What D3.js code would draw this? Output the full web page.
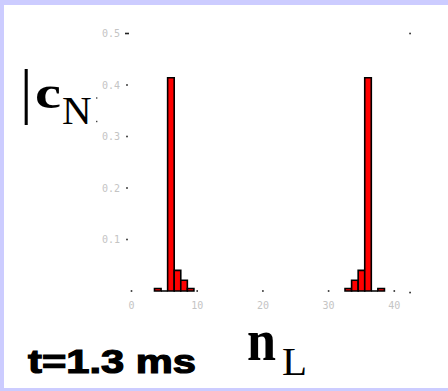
<!DOCTYPE html>
<html>
<head>
<meta charset="utf-8">
<script src="https://cdn.jsdelivr.net/npm/d3@7"></script>
<style>
  body { margin: 0; background: #ccccff; }
  svg { display: block; }
</style>
</head>
<body>
<svg></svg>
<script>
// chart size
const width = 448,
      height = 391;

// data: |c_N|^2 against n_L
const nValues = [4, 5, 6, 7, 8, 9, 33, 34, 35, 36, 37, 38];
const cValues = [0.005, 0, 0.414, 0.04, 0.021, 0.005, 0.005, 0.021, 0.04, 0.414, 0, 0.005];
const xTicks = [0, 10, 20, 30, 40];
const yTicks = [0.1, 0.2, 0.3, 0.4, 0.5];
const xMax = 42.4;

const svg = d3.select("svg")
    .attr("width", width)
    .attr("height", height);

// lavender frame + white page
svg.append("rect").attr("width", width).attr("height", height).attr("fill", "#ccccff");
svg.append("rect").attr("x", 4).attr("y", 5).attr("width", width - 4).attr("height", 383).attr("fill", "#fff");

const xScale = d3.scaleLinear().domain([0, 40]).range([131.5, 394.3]);
const yScale = d3.scaleLinear().domain([0, 0.5]).range([291, 33.5]);

// bars, drawn as paths so zero bars still show as a line
svg.selectAll(".bar")
  .data(nValues.map((n, i) => ({ n: n, v: cValues[i] })))
  .enter().append("path")
    .attr("class", "bar")
    .attr("d", d => {
      let x0 = xScale(d.n - 0.5), x1 = xScale(d.n + 0.5);
      let y0 = yScale(0), y1 = yScale(d.v);
      return `M${x0},${y0}V${y1}H${x1}V${y0}Z`;
    })
    .attr("fill", "#ff0000")
    .attr("stroke", "#000")
    .attr("stroke-width", 1.6);

// y ticks: little dots and grey labels
yTicks.forEach(t => {
  let w = t == 0.5 ? 4 : 1.6;
  svg.append("rect")
    .attr("x", 127 - w / 2).attr("y", yScale(t) - 0.8)
    .attr("width", w).attr("height", 1.6)
    .attr("fill", "#222");
  svg.append("text")
    .attr("x", 120).attr("y", yScale(t))
    .attr("dy", "0.35em")
    .attr("text-anchor", "end")
    .attr("font-family", "DejaVu Sans Mono")
    .attr("font-size", 10)
    .attr("fill", "#c4c4c4")
    .text(d3.format(".1f")(t));
});

// x ticks
xTicks.forEach(t => {
  svg.append("rect")
    .attr("x", xScale(t) - 0.8).attr("y", yScale(0) - 0.8)
    .attr("width", 1.6).attr("height", 1.6)
    .attr("fill", "#222");
  svg.append("text")
    .attr("x", xScale(t)).attr("y", 305)
    .attr("dy", "0.35em")
    .attr("text-anchor", "middle")
    .attr("font-family", "DejaVu Sans Mono")
    .attr("font-size", 10)
    .attr("fill", "#c4c4c4")
    .text(t);
});

// corner dots of the plot range
[0.5, -0.003].forEach(v => {
  svg.append("rect")
    .attr("x", xScale(xMax) - 0.8).attr("y", yScale(v) - 0.8)
    .attr("width", 1.6).attr("height", 1.6)
    .attr("fill", "#222");
});

// y axis label |c_N
svg.append("text")
  .attr("x", 20).attr("y", 112)
  .attr("font-family", "Liberation Serif")
  .attr("font-size", 62)
  .text("|");
svg.append("text")
  .attr("x", 35).attr("y", 108)
  .attr("font-family", "Liberation Serif")
  .attr("font-weight", "bold")
  .attr("font-size", 46)
  .attr("textLength", 26).attr("lengthAdjust", "spacingAndGlyphs")
  .text("c");
svg.append("text")
  .attr("x", 62).attr("y", 123.5)
  .attr("font-family", "Liberation Serif")
  .attr("font-size", 41)
  .text("N");
// clipped remains of the label
[98, 121.5].forEach(y => {
  svg.append("rect").attr("x", 96).attr("y", y - 0.7)
    .attr("width", 1.4).attr("height", 1.4).attr("fill", "#444");
});

// x axis label n_L
svg.append("text")
  .attr("x", 247).attr("y", 360)
  .attr("font-family", "Liberation Serif")
  .attr("font-weight", "bold")
  .attr("font-size", 60)
  .attr("textLength", 29).attr("lengthAdjust", "spacingAndGlyphs")
  .text("n");
svg.append("text")
  .attr("x", 282).attr("y", 375)
  .attr("font-family", "Liberation Serif")
  .attr("font-size", 41)
  .text("L");

// time stamp
svg.append("text")
  .attr("x", 28).attr("y", 373)
  .attr("font-family", "Liberation Sans")
  .attr("font-weight", "bold")
  .attr("font-size", 33)
  .attr("stroke", "#000").attr("stroke-width", 1.2)
  .attr("textLength", 168).attr("lengthAdjust", "spacingAndGlyphs")
  .text("t=1.3 ms");
</script>
</body>
</html>
